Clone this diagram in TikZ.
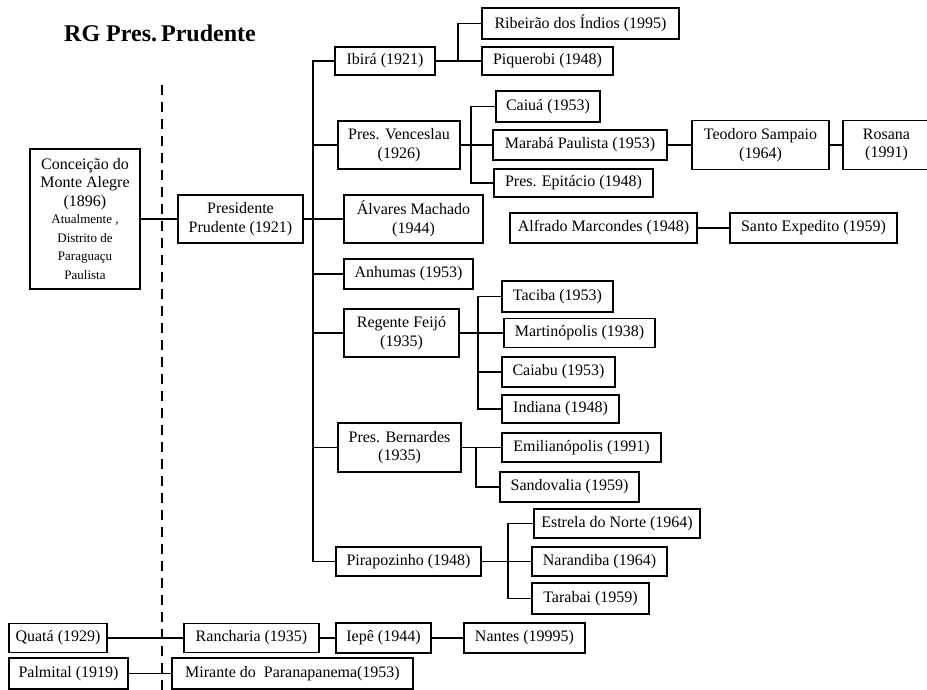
\documentclass[tikz,border=0pt]{standalone}
\usepackage{fontspec}
\setmainfont{Liberation Serif}
\begin{document}
\begin{tikzpicture}[x=1pt,y=-1pt,
  box/.style={draw, line width=1.2pt, inner sep=1pt, align=center,
    font=\fontsize{16}{18.5}\selectfont},
  link/.style={line width=1.2pt},
  sepline/.style={line width=1.3pt, dash pattern=on 10pt off 7pt},
  titlefont/.style={font=\fontsize{24}{28}\selectfont\bfseries}]
\useasboundingbox (0,0) rectangle (927,690);
\newcommand{\bx}[7]{\node[box, minimum width=#4pt, minimum height=#5pt] (#1) at (#2,#3) {#7};}
% title
\node[titlefont] (title) at (160,33) {RG Pres.\,Prudente};
% separator
\coordinate (dTop) at (162,85);
\coordinate (dBot) at (162,692);
\draw[sepline] (dTop) -- (dBot);
% nodes
\node[box, minimum width=110pt, minimum height=140pt] (conc) at (85,219)
  {Conceição do\\Monte Alegre\\(1896)\\[-1pt]
   {\fontsize{13}{16.5}\selectfont Atualmente ,}\\
   {\fontsize{13}{16.5}\selectfont Distrito de}\\
   {\fontsize{13}{16.5}\selectfont Paraguaçu}\\
   {\fontsize{13}{16.5}\selectfont Paulista}};
\bx{prud}{240.5}{219}{125}{48}{}{Presidente\\Prudente (1921)}
\bx{ibira}{385}{61}{100}{28}{}{Ibirá (1921)}
\bx{ribeirao}{580.5}{23.5}{197}{31}{}{Ribeirão dos Índios (1995)}
\bx{piquerobi}{547.5}{61}{131}{28}{}{Piquerobi (1948)}
\bx{venceslau}{399}{145}{122}{48}{}{Pres. Venceslau\\(1926)}
\bx{caiua}{548}{106.5}{104}{31}{}{Caiuá (1953)}
\bx{maraba}{580}{145}{174}{30}{}{Marabá Paulista (1953)}
\bx{epitacio}{573.5}{183}{159}{28}{}{Pres. Epitácio (1948)}
\bx{teodoro}{760.5}{145}{137}{49}{}{Teodoro Sampaio\\(1964)}
\bx{rosana}{886.5}{145}{87}{49}{}{Rosana\\(1991)}
\bx{alvares}{413.5}{219}{139}{48}{}{Álvares Machado\\(1944)}
\bx{alfrado}{603.5}{228}{187}{30}{}{Alfrado Marcondes (1948)}
\bx{santo}{813.5}{228}{167}{30}{}{Santo Expedito (1959)}
\bx{anhumas}{408.5}{274}{129}{30}{}{Anhumas (1953)}
\bx{feijo}{401.5}{333}{115}{48}{}{Regente Feijó\\(1935)}
\bx{taciba}{557.5}{296.5}{111}{31}{}{Taciba (1953)}
\bx{martinopolis}{579.5}{333}{151}{29}{}{Martinópolis (1938)}
\bx{caiabu}{558.5}{372}{113}{30}{}{Caiabu (1953)}
\bx{indiana}{560.5}{409}{117}{28}{}{Indiana (1948)}
\bx{bernardes}{399.5}{447.5}{123}{49}{}{Pres. Bernardes\\(1935)}
\bx{emil}{581.5}{447.5}{159}{29}{}{Emilianópolis (1991)}
\bx{sandovalia}{569.5}{487}{139}{30}{}{Sandovalia (1959)}
\bx{pira}{408.5}{561.5}{145}{29}{}{Pirapozinho (1948)}
\bx{estrela}{617}{523.5}{166}{29}{}{Estrela do Norte (1964)}
\bx{narandiba}{599.5}{561.5}{135}{29}{}{Narandiba (1964)}
\bx{tarabai}{590.5}{598.5}{117}{31}{}{Tarabai (1959)}
\bx{quata}{58}{638}{98}{29}{}{Quatá (1929)}
\bx{rancharia}{251.5}{638}{135}{29}{}{Rancharia (1935)}
\bx{iepe}{383.5}{638}{95}{30}{}{Iepê (1944)}
\bx{nantes}{524.5}{638}{121}{30}{}{Nantes (19995)}
\bx{palmital}{68.5}{673.5}{119}{31}{}{Palmital (1919)}
\bx{mirante}{292.5}{673.5}{241}{31}{}{Mirante do\ \ Paranapanema(1953)}
% connector coordinates
\coordinate (trunkBot) at (313,561.5);
\coordinate (ibBr) at (458,61);
\coordinate (vBr) at (471,145);
\coordinate (fBr) at (478,333);
\coordinate (bBr) at (476,447.5);
\coordinate (pBr) at (508,561.5);
% connectors
\draw[link] (conc.east) -- (prud.west);
\draw[link] (prud.east) -- (alvares.west);
\draw[link] (ibira.west) -| (trunkBot) -- (pira.west);
\draw[link] (venceslau.west) -- (venceslau.west -| trunkBot);
\draw[link] (anhumas.west) -- (anhumas.west -| trunkBot);
\draw[link] (feijo.west) -- (feijo.west -| trunkBot);
\draw[link] (bernardes.west) -- (bernardes.west -| trunkBot);
\draw[link] (ibira.east) -- (piquerobi.west);
\draw[link] (ribeirao.west) -| (ibBr);
\draw[link] (venceslau.east) -- (maraba.west);
\draw[link] (caiua.west) -| (vBr) |- (epitacio.west);
\draw[link] (maraba.east) -- (teodoro.west);
\draw[link] (teodoro.east) -- (rosana.west);
\draw[link] (alfrado.east) -- (santo.west);
\draw[link] (feijo.east) -- (martinopolis.west);
\draw[link] (taciba.west) -| (fBr) |- (indiana.west);
\draw[link] (caiabu.west) -- (caiabu.west -| fBr);
\draw[link] (bernardes.east) -- (emil.west);
\draw[link] (bBr) |- (sandovalia.west);
\draw[link] (pira.east) -- (narandiba.west);
\draw[link] (estrela.west) -| (pBr) |- (tarabai.west);
\draw[link] (quata.east) -- (rancharia.west);
\draw[link] (rancharia.east) -- (iepe.west);
\draw[link] (iepe.east) -- (nantes.west);
\draw[link] (palmital.east) -- (mirante.west);
\end{tikzpicture}
\end{document}
